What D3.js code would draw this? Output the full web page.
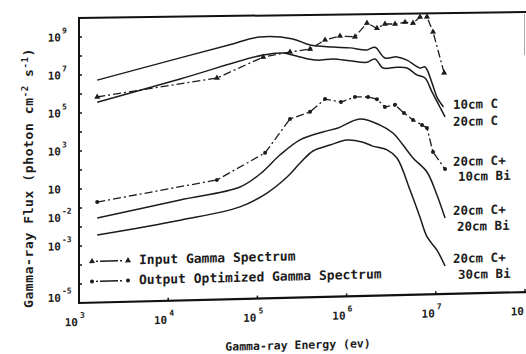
<!DOCTYPE html>
<html>
<head>
<meta charset="utf-8">
<script src="https://cdn.jsdelivr.net/npm/d3@7"></script>
<style>
  body { margin: 0; background: #fff; }
  svg { display: block; }
  text { font-family: "DejaVu Sans Mono", monospace; font-weight: bold; fill: #1c1c1c; }
</style>
</head>
<body>
<svg id="chart" width="526" height="354"></svg>
<script>
// energies in eV, flux in photon cm^-2 s^-1
const e10C = [1.6e3, 1.36e4, 4.9e4, 1.07e5, 2.5e5, 3.9e5, 7.05e5, 1.09e6, 1.69e6, 2.08e6, 2.69e6, 3.67e6, 4.75e6, 6.65e6, 7.57e6, 9.06e6, 1.03e7, 1.22e7];
const f10C = [5.1e6, 5.9e7, 2.5e8, 5.9e8, 4.2e8, 1.9e8, 1.4e8, 1.2e8, 8.9e7, 1.2e8, 3.2e7, 3.5e7, 2.3e7, 8.5e6, 9.5e6, 1.35e6, 2.4e5, 7.1e4];

const e20C = [1.6e3, 1.36e4, 1.16e5, 1.94e5, 3.0e5, 4.66e5, 7.05e5, 1.09e6, 1.69e6, 2.08e6, 2.56e6, 3.67e6, 4.75e6, 6.15e6, 7.57e6, 9.06e6, 1.11e7, 1.27e7];
const f20C = [3.5e5, 4.6e6, 6.6e7, 7.9e7, 4.6e7, 3.0e7, 3.3e7, 2.5e7, 2.0e7, 2.9e7, 9.5e6, 1.0e7, 8.9e6, 3.7e6, 2.5e6, 4.5e5, 7.1e4, 2.1e4];

const eIn = [1.6e3, 3.52e4, 1.16e5, 2.32e5, 3.89e5, 5.73e5, 8.43e5, 1.24e6, 1.69e6, 2.19e6, 2.69e6, 3.49e6, 4.52e6, 5.55e6, 6.65e6, 7.96e6, 9.31e6, 1.24e7];
const fIn = [6.6e5, 4.6e6, 5.1e7, 8.7e7, 1.17e8, 3.4e8, 5.2e8, 4.5e8, 2.3e9, 1.2e9, 1.95e9, 1.9e9, 2.3e9, 2.0e9, 4.1e9, 4.1e9, 6.5e8, 4.4e6];

// output optimized = 20cm C + 10cm Bi
const eOut = [1.6e3, 3.52e4, 1.22e5, 2.32e5, 3.89e5, 5.73e5, 8.65e5, 1.24e6, 1.74e6, 2.19e6, 2.69e6, 3.49e6, 4.4e6, 5.55e6, 7.0e6, 7.96e6, 9.31e6, 1.27e7];
const fOut = [1.95, 20, 4.6e2, 2.6e4, 5.8e4, 2.6e5, 1.74e5, 3.1e5, 2.95e5, 2.2e5, 8.3e4, 1.05e5, 3.8e4, 1.6e4, 8.5e3, 5.8e3, 3.1e2, 38];

const eBi20 = [1.6e3, 1.36e4, 6.38e4, 1.07e5, 1.79e5, 3.01e5, 5.43e5, 8.02e5, 1.41e6, 2.37e6, 3.31e6, 4.29e6, 5.55e6, 7.96e6, 1.03e7, 1.27e7];
const fBi20 = [0.28, 1.95, 7.9, 36, 3.4e2, 2.0e3, 4.9e3, 7.6e3, 2.1e4, 9.5e3, 3.5e3, 7.9e2, 1.6e2, 28, 1.66, 0.1];

const eBi30 = [1.6e3, 1.36e4, 6.38e4, 1.28e5, 2.15e5, 3.01e5, 4.2e5, 6.52e5, 1.01e6, 1.49e6, 1.93e6, 2.84e6, 3.67e6, 5.14e6, 6.65e6, 7.96e6, 1.03e7, 1.27e7];
const fBi30 = [0.036, 0.17, 0.71, 3.5, 23, 1.2e2, 5.0e2, 9.8e2, 1.7e3, 1.3e3, 7.8e2, 4.6e2, 1.66e2, 3.3, 0.12, 0.011, 2.1e-3, 3.0e-4];

// tick labels, placed where the original figure prints them
const xTicks = [1e3, 1e4, 1e5, 1e6, 1e7, 1e8];
const xTickExp = ["3", "4", "5", "6", "7", ""]; // last exponent is off the page in the scan
const yTickAt = [1e9, 1e7, 1e5, 1e3, 1e1, Math.pow(10, -0.5), 1e-2, Math.pow(10, -4.7)];
const yTickExp = ["9", "7", "5", "3", "", "-2", "-3", "-5"];

const curveNames = ["10cm C", "20cm C", "20cm C+", "10cm Bi", "20cm C+", "20cm Bi", "20cm C+", "30cm Bi"];
const legendNames = ["Input Gamma Spectrum", "Output Optimized Gamma Spectrum"];

const zip = (es, fs) => es.map((e, i) => [e, fs[i]]);

const svg = d3.select("#chart");
const plotLeft = 79, plotRight = 525, plotTop = 18, plotBottom = 303;

const x = d3.scaleLog().domain([1e3, 1e8]).range([plotLeft, plotRight]);
const y = d3.scaleLog().domain([1e-5, 1e10]).range([plotBottom, plotTop]);

// the scan is tilted a little, so everything is sheared
const ang = 1.4;
const T = Math.tan(ang * Math.PI / 180);
const gy = (px, py) => py + T * (px - plotLeft); // screen y -> sheared group y

const g = svg.append("g")
  .attr("transform", `translate(0,${plotLeft * T}) skewY(${-ang})`);

// frame
g.append("line").attr("x1", plotLeft).attr("x2", plotLeft).attr("y1", plotTop).attr("y2", plotBottom)
  .attr("stroke", "#111").attr("stroke-width", 2);
g.append("line").attr("x1", plotLeft - 1).attr("x2", 526).attr("y1", plotBottom).attr("y2", plotBottom)
  .attr("stroke", "#111").attr("stroke-width", 2.2);
svg.append("line").attr("x1", plotLeft - 1).attr("x2", 526).attr("y1", 18).attr("y2", 12)
  .attr("stroke", "#111").attr("stroke-width", 2);
// faint edge of the scanned page
svg.append("line").attr("x1", 524.5).attr("x2", 524.5).attr("y1", 14).attr("y2", 55)
  .attr("stroke", "#aaa").attr("stroke-width", 1);

// y ticks each decade
g.append("g").selectAll("line")
  .data(d3.range(-4, 10).map(k => Math.pow(10, k)))
  .join("line")
  .attr("x1", plotLeft).attr("x2", plotLeft + 3)
  .attr("y1", d => y(d)).attr("y2", d => y(d))
  .attr("stroke", "#111").attr("stroke-width", 1.5);

const yl = g.append("g").selectAll("g")
  .data(yTickAt)
  .join("g");
yl.append("text")
  .attr("x", plotLeft - 18).attr("y", d => y(d) + 4)
  .attr("text-anchor", "end")
  .attr("font-size", 11)
  .text("10");
yl.append("text")
  .attr("x", plotLeft - 17).attr("y", d => y(d) - 4)
  .attr("font-size", 8)
  .text((d, i) => yTickExp[i]);

// x ticks
g.append("g").selectAll("line")
  .data(xTicks)
  .join("line")
  .attr("x1", d => x(d)).attr("x2", d => x(d))
  .attr("y1", plotBottom).attr("y2", plotBottom - 3)
  .attr("stroke", "#111").attr("stroke-width", 1.5);

const xl = g.append("g").selectAll("g")
  .data(xTicks)
  .join("g");
xl.append("text")
  .attr("x", d => x(d) - 1).attr("y", plotBottom + 23)
  .attr("text-anchor", "end")
  .attr("font-size", 11)
  .text("10");
xl.append("text")
  .attr("x", d => x(d) + 1).attr("y", plotBottom + 15)
  .attr("font-size", 8)
  .text((d, i) => xTickExp[i]);

// curves
const smooth = d3.line()
  .x(d => x(d[0])).y(d => y(d[1]))
  .curve(d3.curveCatmullRom.alpha(0.5));
const straight = d3.line()
  .x(d => x(d[0])).y(d => y(d[1]));

const solid = [zip(e10C, f10C), zip(e20C, f20C), zip(eBi20, fBi20), zip(eBi30, fBi30)];
g.append("g").selectAll("path")
  .data(solid)
  .join("path")
  .attr("d", smooth)
  .attr("fill", "none")
  .attr("stroke", "#1c1c1c")
  .attr("stroke-width", 1.5);

const inputPts = zip(eIn, fIn);
const outputPts = zip(eOut, fOut);

g.append("path").datum(inputPts)
  .attr("d", straight)
  .attr("fill", "none").attr("stroke", "#1c1c1c").attr("stroke-width", 1.3)
  .attr("stroke-dasharray", "8,3,2,3");
g.append("path").datum(outputPts)
  .attr("d", straight)
  .attr("fill", "none").attr("stroke", "#1c1c1c").attr("stroke-width", 1.3)
  .attr("stroke-dasharray", "8,3,2,3");

const tri = d3.symbol().type(d3.symbolTriangle).size(16);
g.append("g").selectAll("path")
  .data(inputPts)
  .join("path")
  .attr("d", tri)
  .attr("transform", d => `translate(${x(d[0])},${y(d[1])})`)
  .attr("fill", "#1c1c1c");
g.append("g").selectAll("circle")
  .data(outputPts)
  .join("circle")
  .attr("cx", d => x(d[0])).attr("cy", d => y(d[1]))
  .attr("r", 2)
  .attr("fill", "#1c1c1c");

// curve end labels (screen positions)
const labelPos = [[453, 109], [453, 126], [453, 166], [458, 181], [453, 215], [457, 231], [453, 263], [458, 279]];
g.append("g").selectAll("text")
  .data(curveNames)
  .join("text")
  .attr("x", (d, i) => labelPos[i][0])
  .attr("y", (d, i) => gy(labelPos[i][0], labelPos[i][1]))
  .attr("font-size", 12.5)
  .text(d => d);

// legend
const legY = [261, 281];
legendNames.forEach((name, i) => {
  const ly = gy(110, legY[i]);
  g.append("line").attr("x1", 96).attr("x2", 124).attr("y1", ly).attr("y2", ly)
    .attr("stroke", "#1c1c1c").attr("stroke-width", 1.4)
    .attr("stroke-dasharray", "2,2,18,2,2");
  [92, 128].forEach(mx => {
    if (i === 0) {
      g.append("path").attr("d", tri).attr("transform", `translate(${mx},${ly})`).attr("fill", "#1c1c1c");
    } else {
      g.append("circle").attr("cx", mx).attr("cy", ly).attr("r", 2).attr("fill", "#1c1c1c");
    }
  });
  g.append("text")
    .attr("x", 139).attr("y", ly + 4)
    .attr("font-size", 13)
    .text(name);
});

// axis titles
g.append("text")
  .attr("x", 298).attr("y", gy(298, 349))
  .attr("text-anchor", "middle")
  .attr("font-size", 11.5)
  .text("Gamma-ray Energy (ev)");

const yt = svg.append("text")
  .attr("transform", "translate(33,178) rotate(-90)")
  .attr("text-anchor", "middle")
  .attr("font-size", 13)
  .attr("letter-spacing", 0.6);
yt.append("tspan").text("Gamma-ray Flux (photon cm");
yt.append("tspan").attr("dy", -5).attr("font-size", 9).text("-2");
yt.append("tspan").attr("dy", 5).text(" s");
yt.append("tspan").attr("dy", -5).attr("font-size", 9).text("-1");
yt.append("tspan").attr("dy", 5).text(")");
</script>
</body>
</html>
